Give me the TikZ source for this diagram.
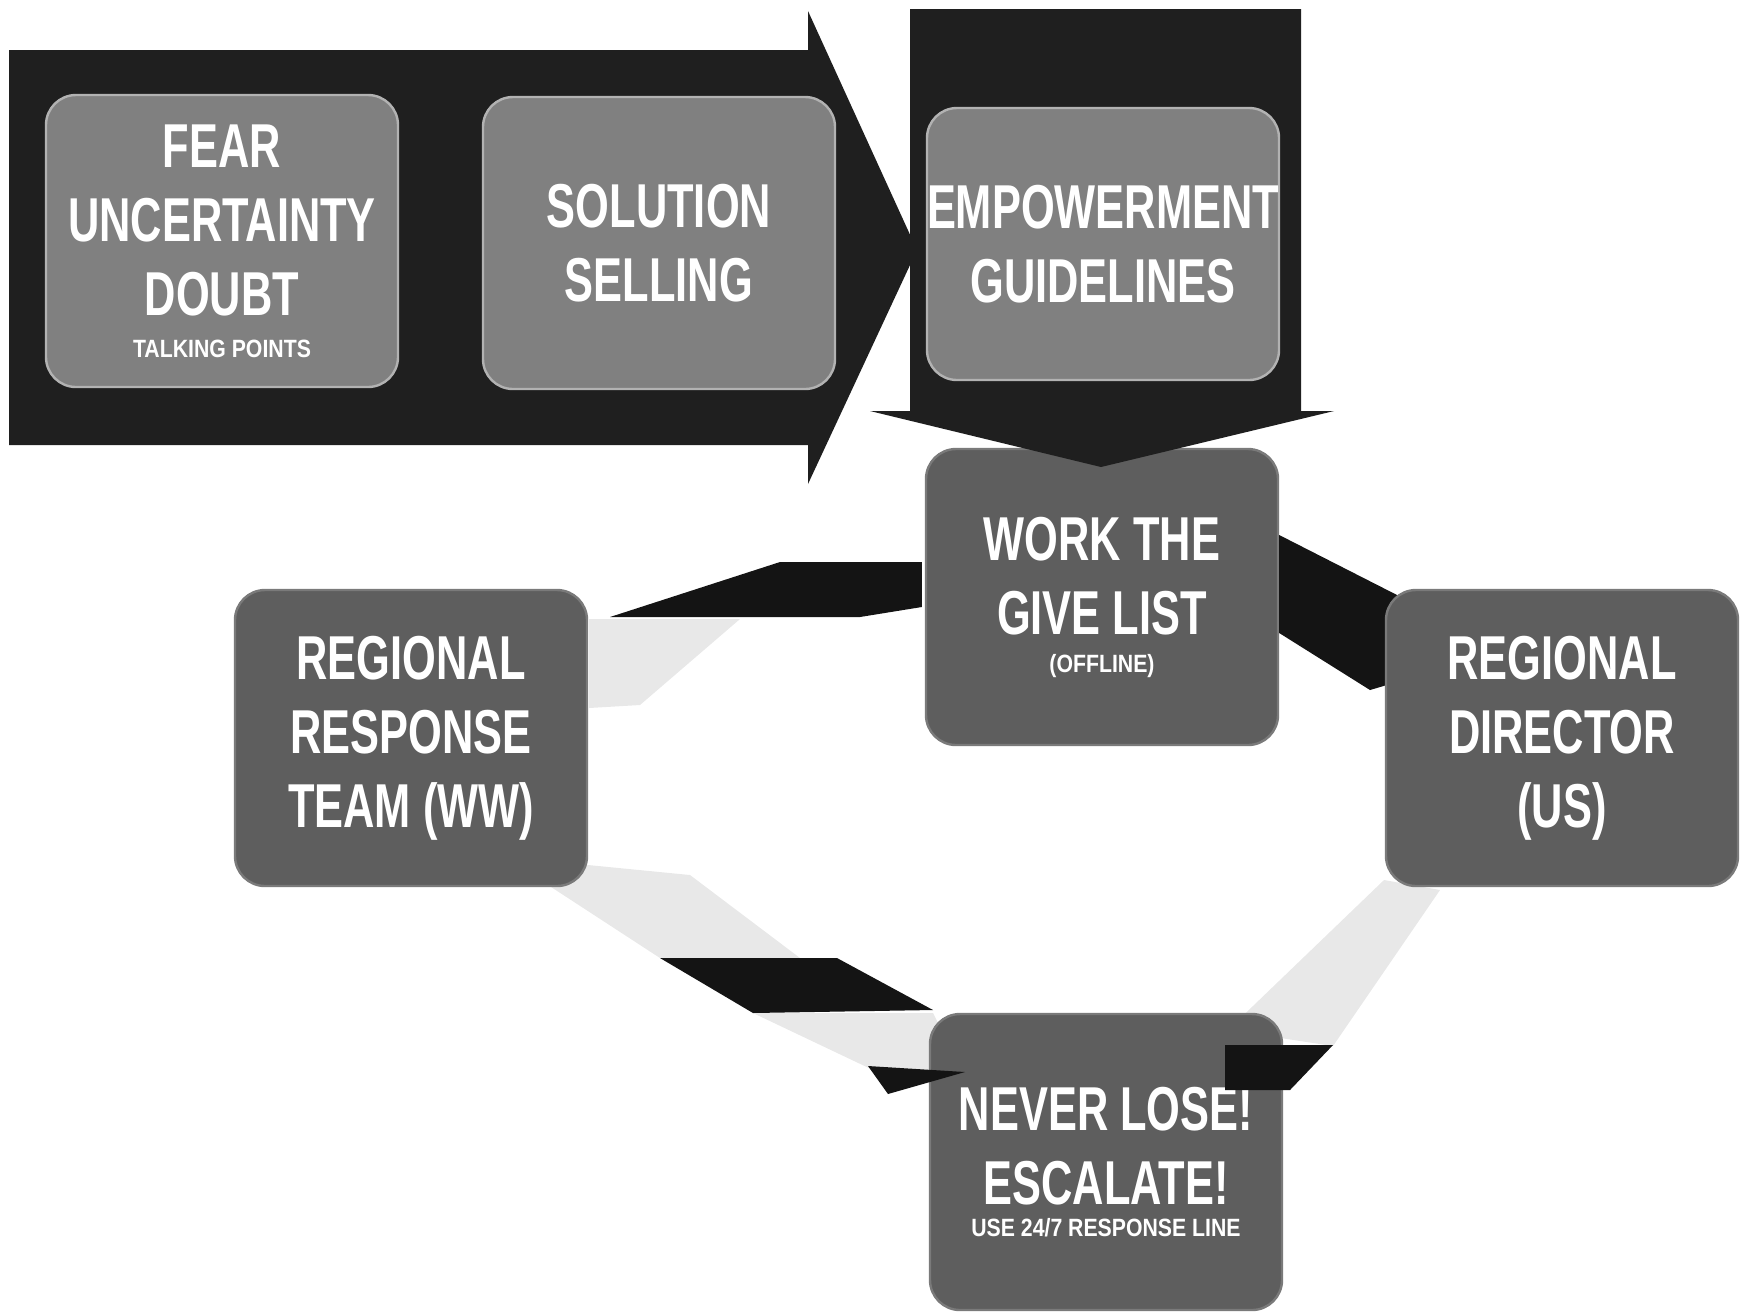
\documentclass[tikz,border=0pt]{standalone}
\usepackage{fontspec}
\newfontfamily\boxfont[FakeStretch=0.7]{Liberation Sans}
\newfontfamily\notefont[FakeStretch=0.85]{Liberation Sans}
\usetikzlibrary{calc}
\newcommand{\notetext}[1]{{\notefont\bfseries\fontsize{12.5}{14}\selectfont #1}}

\begin{document}
\begin{tikzpicture}[x=0.5pt, y=-0.5pt,
    stage/.style={rounded corners=15pt, fill=black!50, draw=black!30, line width=1.2pt,
      text=white, align=center, inner sep=0pt, minimum width=176pt, minimum height=146pt,
      font=\boxfont\bfseries\fontsize{31}{37}\selectfont},
    deepstage/.style={stage, fill=black!63, draw=black!52, minimum height=148pt},
    bigarrow/.style={fill=black!88},
    ribbon/.style={fill=black!92},
    fade/.style={fill=black!9}]
  \useasboundingbox (0,0) rectangle (1743,1314);

  % --- give list box (sits under the down arrow) ---
  \node[deepstage] (work) at (1102,597) {WORK THE\\GIVE LIST\\[-18pt]\notetext{(OFFLINE)}};

  % --- connectors round the loop ---
  % give list -> response team
  \fill[ribbon] ($(work.west)+(-3,-35)$) -- (780,562) -- (610,617) -- (860,617)
    -- ($(work.west)+(-3,10)$) -- cycle;
  \fill[fade] (589,619) -- (740,619) -- (640,705) -- (589,708) -- cycle;
  % give list -> director
  \fill[ribbon] ($(work.east)+(0,-62)$) -- (1397,595) -- (1397,682) -- (1370,690)
    -- ($(work.east)+(0,36)$) -- cycle;
  % director -> never lose
  \fill[fade] (1384,880) -- (1440,890) -- (1333,1046) -- (1228,1030) -- cycle;
  % response team -> never lose
  \fill[fade] (548,885) -- (660,958) -- (800,958) -- (690,875) -- (588,865) -- cycle;
  \fill[ribbon] (660,958) -- (837,958) -- (933,1010) -- (753,1013) -- cycle;
  \fill[fade] (753,1013) -- (933,1013) -- (962,1070) -- (873,1070) -- cycle;

  % --- big arrow along the top ---
  \fill[bigarrow] (9,50) -- (808,50) -- (808,11) -- (917,250) -- (808,484)
    -- (808,445) -- (9,445) -- cycle;
  % --- down arrow onto the give list ---
  \fill[bigarrow] (910,9) -- (1301,9) -- (1301,411) -- (1334,411) -- (1101,467)
    -- (870,411) -- (910,411) -- cycle;

  % --- top stages ---
  \node[stage] (fud) at (222,241) {FEAR\\UNCERTAINTY\\DOUBT\\[-16pt]\notetext{TALKING POINTS}};
  \node[stage] (sell) at (659,243) {SOLUTION\\SELLING};
  \node[stage, minimum height=136pt] (empower) at (1103,244) {EMPOWERMENT\\GUIDELINES};

  % --- loop stages ---
  \node[deepstage] (rrt) at (411,738) {REGIONAL\\RESPONSE\\TEAM (WW)};
  \node[deepstage] (rd) at (1562,738) {REGIONAL\\DIRECTOR\\(US)};
  \node[deepstage] (nl) at (1106,1162) {NEVER LOSE!\\ESCALATE!\\[-21pt]\notetext{USE 24/7 RESPONSE LINE}};

  % arrow tips on top of never lose
  \fill[ribbon] (868,1066) -- (965,1072) -- (888,1094) -- cycle;
  \fill[ribbon] (1225,1045) -- (1333,1045) -- (1290,1090) -- (1225,1090) -- cycle;
\end{tikzpicture}
\end{document}
